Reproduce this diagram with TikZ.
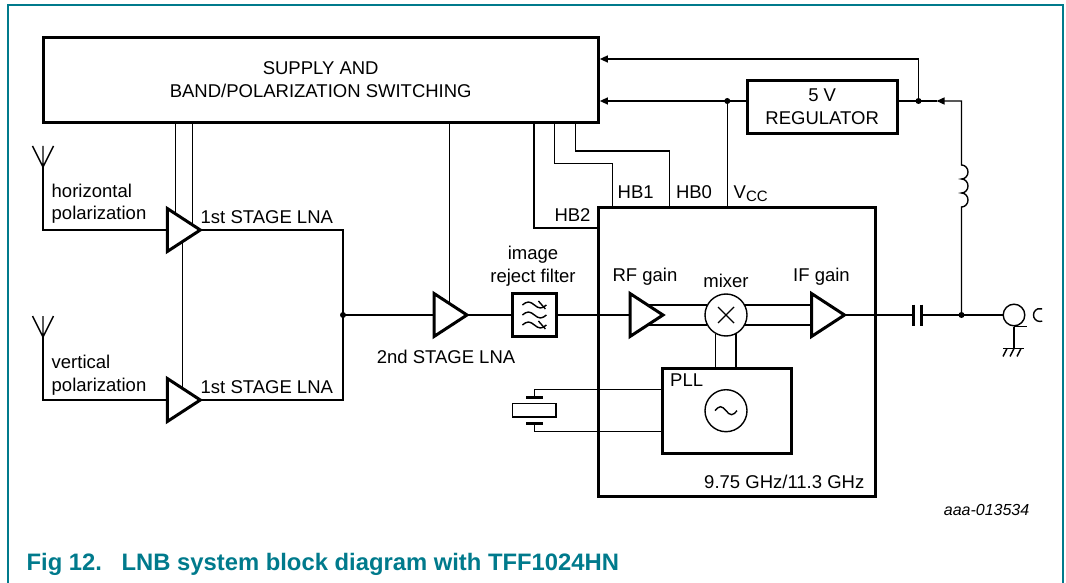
\documentclass[tikz,border=0pt]{standalone}
\usepackage{fontspec}
\setmainfont{Liberation Sans}
\usepackage{tikz}
\usepackage{xcolor}
\usetikzlibrary{positioning, arrows.meta, calc}
\definecolor{nxpteal}{RGB}{0, 122, 140}

\tikzset{
  blk/.style={draw, line width=3pt, inner sep=0pt, align=center, font=\fontsize{18.5}{22.8}\selectfont},
  lbl/.style={inner sep=0pt, font=\fontsize{18.5}{22.8}\selectfont},
  jdot/.style={circle, fill, inner sep=0pt, minimum size=6pt},
  arrowin/.style={-{Triangle[length=8pt,width=7pt]}},
  plate/.style={line width=3.5pt},
  amp/.pic={
    \draw[line width=3pt] (0,-21.5) -- (33,0) -- (0,21.5) -- cycle;
    \coordinate (-in) at (0,0);
    \coordinate (-out) at (33,0);
    \coordinate (-ta) at (8.3,-16.1);
    \coordinate (-tb) at (15.3,-11.5);
    \coordinate (-tc) at (25.3,-5);
    \coordinate (-bb) at (15.3,11.5);
    \coordinate (-u) at (17.6,-10);
    \coordinate (-d) at (17.6,10);
    \coordinate (-iu) at (0,-10);
    \coordinate (-id) at (0,10);
  }
}

\begin{document}
\begin{tikzpicture}[x=1pt, y=-1pt, line width=1.4pt]
\useasboundingbox (0,0) rectangle (1066,583);

% frame and caption
\draw[nxpteal] (8,583) |- (1063,5) -- (1063,583);
\node[anchor=base west, inner sep=0pt, text=nxpteal, font=\fontsize{23.8}{28}\selectfont\bfseries] (fig) at (25.9,570.3) {Fig 12.};
\node[anchor=base west, inner sep=0pt, text=nxpteal, font=\fontsize{23.8}{28}\selectfont\bfseries] (title) at (121,570.3) {LNB system block diagram with TFF1024HN};
\node[anchor=base east, inner sep=0pt, font=\fontsize{16}{19}\selectfont\itshape] (code) at (1030,515.5) {aaa-013534};

% blocks
\node[blk, minimum width=555.3pt, minimum height=85.4pt] (supply) at (320.7,80) {SUPPLY AND\\BAND/POLARIZATION SWITCHING};
\node[blk, minimum width=150.3pt, minimum height=52.6pt] (reg) at (822.2,107) {5 V\\REGULATOR};
\node[blk, minimum width=276.9pt, minimum height=288.3pt] (ic) at (737,351.9) {};
\node[blk, minimum width=129pt, minimum height=85pt] (pll) at (726.5,410.8) {};
\node[blk, minimum width=43.2pt, minimum height=43.5pt] (filt) at (534.4,315) {};
\node[draw, circle, inner sep=0pt, minimum size=42pt] (mix) at (726,315) {};
\node[draw, circle, inner sep=0pt, minimum size=42pt] (osc) at (726,410.7) {};
\node[draw, circle, inner sep=0pt, minimum size=21.6pt] (coax) at (1014,315) {};
\node[draw, inner sep=0pt, minimum width=43.3pt, minimum height=13.3pt] (xtal) at (534.4,410.4) {};

% amplifiers
\pic (lna1) at (167.3,230) {amp};
\pic (lna2) at (167.3,400) {amp};
\pic (lna3) at (434,315) {amp};
\pic (rf) at (630,315) {amp};
\pic (ifa) at (811.5,315) {amp};

% symbols inside blocks
\foreach \dy in {-10,0,10}
  \draw ($(filt)+(-12,\dy)$) sin ++(6,-3) cos ++(6,3) sin ++(6,3) cos ++(6,-3);
\draw ($(filt)+(4,-14)$) -- ++(7,8) ($(filt)+(4,6)$) -- ++(7,8);
\draw ($(mix)+(-8,-8)$) -- ++(16,16) ($(mix)+(-8,8)$) -- ++(16,-16);
\draw ($(osc)+(-11,0)$) sin ++(5.5,-4) cos ++(5.5,4) sin ++(5.5,4) cos ++(5.5,-4);

% antennas
\coordinate (ant1) at (43,167);
\coordinate (ant2) at (43,337);
\foreach \a in {ant1,ant2}
  \draw (\a) -- ++(-10.5,-21) (\a) -- ++(0,-21) (\a) -- ++(10.5,-21);

% signal path
\coordinate (jl) at (343,315);
\draw (ant1) |- (lna1-in);
\draw (ant2) |- (lna2-in);
\draw (lna1-out) -| (jl) |- (lna2-out);
\node[jdot] (d1) at (jl) {};
\draw (jl) -- (lna3-in);
\draw (lna3-out) -- (filt.west);
\draw (filt.east) -- (rf-in);
\draw (rf-u) -- (rf-u -| mix.152);
\draw (rf-d) -- (rf-d -| mix.208);
\draw (ifa-iu -| mix.28) -- (ifa-iu);
\draw (ifa-id -| mix.332) -- (ifa-id);
\draw (mix.241.6) -- (mix.241.6 |- pll.north);
\draw (mix.298.4) -- (mix.298.4 |- pll.north);

% supply of the LNAs
\draw (supply.south -| lna1-ta) -- (lna1-ta);
\draw (supply.south -| lna1-tc) -- (lna1-tc);
\draw (lna1-bb) -- (lna2-tb);
\draw (supply.south -| lna3-tb) -- (lna3-tb);

% crystal
\coordinate (pa) at (534.4,397.5);
\coordinate (pb) at (534.4,423.3);
\draw[plate] (pa) ++(-8.4,0) -- ++(16.8,0);
\draw[plate] (pb) ++(-8.4,0) -- ++(16.8,0);
\draw (pa) |- (pll.west |- 0,389.3);
\draw (pb) |- (pll.west |- 0,431.7);

% output
\coordinate (capl) at (913.3,315);
\coordinate (capr) at (921.7,315);
\coordinate (jo) at (961.5,315);
\draw (ifa-out) -- (capl);
\draw[plate] (capl) ++(0,-10.5) -- ++(0,21);
\draw[plate] (capr) ++(0,-10.5) -- ++(0,21);
\draw (capr) -- (jo) -- (coax.west);
\node[jdot] (d4) at (jo) {};
\draw (coax.south) -- ++(13,0);
\draw (coax.south) -- ++(0,22) coordinate (gnd);
\draw (gnd) ++(-11,0) -- ++(21,0);
\foreach \i in {-7,0,7}
  \draw (gnd) ++(\i,0) -- ++(-4,8);
\draw (1042.2,321.1) arc[start angle=70, end angle=290, radius=6.5];

% power feed and 5 V regulator
\coordinate (cbot) at (961.5,207);
\coordinate (jc) at (961.5,101);
\coordinate (jr) at (918.5,101);
\coordinate (jv) at (727.3,101);
\coordinate (atip) at (936.5,101);
\draw[arrowin] (jo) -- (cbot)
  arc[start angle=90, end angle=-90, x radius=6.5, y radius=7]
  arc[start angle=90, end angle=-90, x radius=6.5, y radius=7]
  arc[start angle=90, end angle=-90, x radius=6.5, y radius=7]
  -- (jc) -- (atip);
\draw (atip) -- (jr);
\node[jdot] (d3) at (jr) {};
\draw[arrowin] (jr) |- (supply.east |- 0,59);
\draw (reg.east |- jr) -- (jr);
\draw (reg.west |- jv) -- (jv);
\node[jdot] (d2) at (jv) {};
\draw[arrowin] (jv) -- (supply.east |- jv);
\draw (jv) -- (jv |- ic.north);

% band switching lines
\coordinate (hb2) at (534,228);
\coordinate (hb1a) at (554.3,163.3);
\coordinate (hb1b) at (612.3,163.3);
\coordinate (hb0a) at (575.7,151);
\coordinate (hb0b) at (669.3,151);
\draw (supply.south -| hb2) |- (hb2 -| ic.west);
\draw (supply.south -| hb1a) -- (hb1a) -- (hb1b) -- (hb1b |- ic.north);
\draw (supply.south -| hb0a) -- (hb0a) -- (hb0b) -- (hb0b |- ic.north);

% labels
\node[lbl, anchor=base] (lhb2) at (572.5,221.6) {HB2};
\node[lbl, anchor=base] (lhb1) at (635.7,198.3) {HB1};
\node[lbl, anchor=base] (lhb0) at (694,198.3) {HB0};
\node[lbl, anchor=base west] (lvcc) at (733,198.3) {V\raisebox{-3pt}{\fontsize{15}{15}\selectfont CC}};
\node[lbl, anchor=west, align=left] (lhor) at (51,203.8) {horizontal\\polarization};
\node[lbl, anchor=west, align=left] (lver) at (51,375.2) {vertical\\polarization};
\node[lbl, anchor=base west] (l1a) at (200,223.3) {1st STAGE LNA};
\node[lbl, anchor=base west] (l1b) at (200,393.3) {1st STAGE LNA};
\node[lbl, anchor=base] (l2) at (446,363.9) {2nd STAGE LNA};
\node[lbl, align=center] (lfilt) at (533,266) {image\\reject filter};
\node[lbl, anchor=base] (lrf) at (645,281.6) {RF gain};
\node[lbl, anchor=base] (lmix) at (726,287) {mixer};
\node[lbl, anchor=base] (lif) at (821.5,281.6) {IF gain};
\node[lbl, anchor=base west] (lpll) at (669.5,386.6) {PLL};
\node[lbl, anchor=base east] (lfreq) at (865,488.3) {9.75 GHz/11.3 GHz};
\end{tikzpicture}
\end{document}
